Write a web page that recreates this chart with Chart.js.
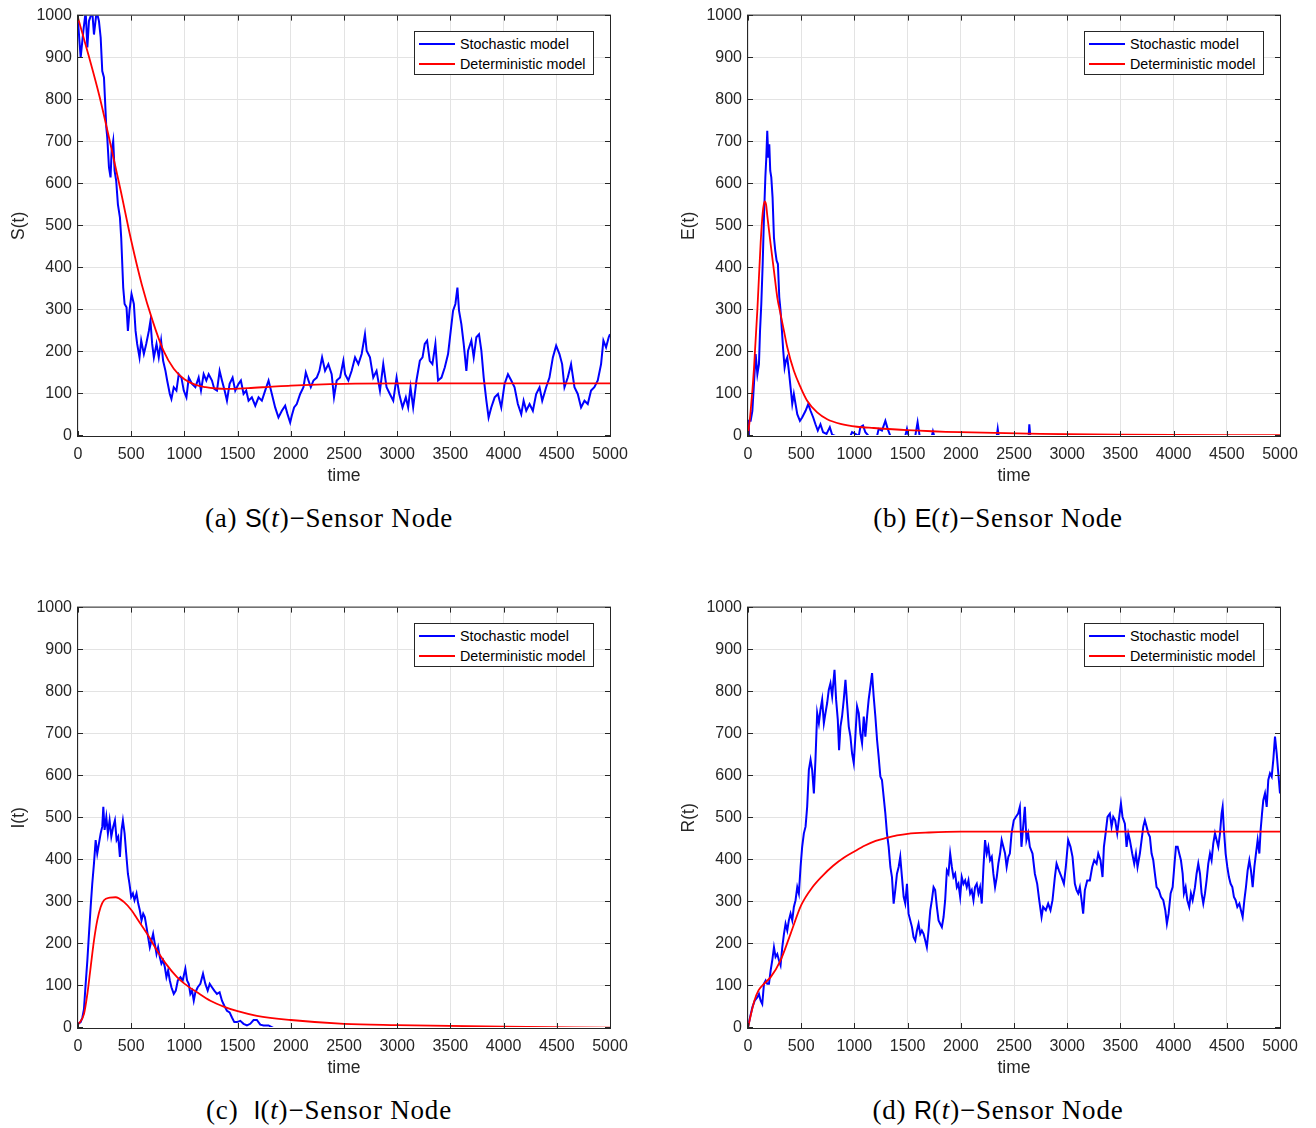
<!DOCTYPE html>
<html>
<head>
<meta charset="utf-8">
<title>SEIR sensor node: stochastic vs deterministic</title>
<script src="https://cdn.jsdelivr.net/npm/chart.js@4.4.1/dist/chart.umd.min.js"></script>
<style>
  html, body { margin: 0; padding: 0; background: #fff; overflow: hidden; }
  body { width: 1316px; height: 1128px; position: relative; font-family: 'Liberation Sans', Arial, sans-serif; }
  .panel { position: absolute; width: 640px; height: 490px; }
  .legend { position: absolute; width: 178px; height: 42px; border: 1px solid #262626; background: #fff; font-size: 14.3px; color: #000; }
  .legend .row { position: absolute; left: 0; width: 178px; height: 20px; line-height: 20px; white-space: nowrap; }
  .legend .sw { position: absolute; left: 4px; width: 36px; height: 2px; top: 9px; }
  .legend .txt { position: absolute; left: 45px; top: 0; }
  .caption { position: absolute; height: 32px; line-height: 32px; font-family: 'Liberation Serif', 'Times New Roman', serif; font-size: 27px; letter-spacing: 0.8px; color: #000; white-space: nowrap; transform: translateX(-50%); }
  .caption .sf { font-family: 'Liberation Sans', Arial, sans-serif; font-size: 25px; letter-spacing: 0; }
  .caption .it { font-style: italic; }
</style>
</head>
<body>

<canvas id="chart-s" class="panel" width="640" height="490" style="left:0px;top:0px"></canvas>
<canvas id="chart-e" class="panel" width="640" height="490" style="left:670px;top:0px"></canvas>
<canvas id="chart-i" class="panel" width="640" height="490" style="left:0px;top:592px"></canvas>
<canvas id="chart-r" class="panel" width="640" height="490" style="left:670px;top:592px"></canvas>

<div class="caption" style="left:329px;top:502px">(a) <span class="sf">S</span>(<span class="it">t</span>)−Sensor Node</div>
<div class="caption" style="left:998px;top:502px">(b) <span class="sf">E</span>(<span class="it">t</span>)−Sensor Node</div>
<div class="caption" style="left:329px;top:1094px">(c)&nbsp; <span class="sf">I</span>(<span class="it">t</span>)−Sensor Node</div>
<div class="caption" style="left:998px;top:1094px">(d) <span class="sf">R</span>(<span class="it">t</span>)−Sensor Node</div>

<script>
// axis ticks
const timeTicks = [0, 500, 1000, 1500, 2000, 2500, 3000, 3500, 4000, 4500, 5000];
const countTicks = [0, 100, 200, 300, 400, 500, 600, 700, 800, 900, 1000];
const seriesNames = ['Stochastic model', 'Deterministic model'];

// [time, value]
const sDeterministic = [[0,995],[50,950],[100,905],[200,810],[300,700],[400,585],[500,465],[600,360],[700,275],[800,205],[900,160],[1000,135],[1100,122],[1200,116],[1300,113],[1400,112],[1600,114],[1800,117],[2000,120],[2500,124],[3000,125],[4000,125],[5000,125]];
const sStochastic = [[0,987],[25,900],[50,963],[72,1010],[88,924],[103,987],[134,1010],[150,955],[175,1010],[197,987],[213,948],[228,868],[244,853],[253,805],[266,734],[275,710],[291,639],[306,615],[316,678],[331,702],[344,631],[359,607],[375,551],[394,520],[406,472],[416,409],[425,353],[438,314],[456,306],[469,250],[484,298],[503,338],[525,314],[541,250],[556,219],[578,187],[594,227],[619,195],[641,219],[666,250],[681,274],[697,219],[713,187],[738,219],[759,187],[781,227],[800,179],[822,155],[838,132],[863,100],[878,88],[900,116],[925,108],[947,147],[972,139],[994,108],[1019,92],[1041,139],[1072,124],[1103,116],[1134,139],[1156,108],[1181,147],[1206,132],[1228,147],[1259,132],[1281,112],[1306,108],[1331,155],[1353,132],[1378,108],[1400,84],[1425,124],[1453,139],[1478,108],[1509,124],[1531,132],[1556,100],[1581,108],[1603,84],[1634,92],[1666,72],[1697,92],[1728,84],[1759,108],[1791,132],[1822,100],[1853,68],[1884,44],[1916,60],[1947,72],[1969,52],[1994,32],[2009,48],[2031,68],[2056,76],[2088,100],[2119,116],[2141,151],[2166,132],[2188,116],[2213,132],[2244,139],[2269,155],[2294,187],[2322,155],[2353,171],[2384,147],[2406,92],[2431,132],[2463,139],[2494,179],[2510,147],[2541,132],[2572,155],[2604,187],[2635,171],[2666,195],[2697,242],[2713,203],[2744,187],[2775,139],[2806,155],[2838,108],[2869,171],[2900,116],[2931,100],[2963,84],[2994,139],[3019,100],[3050,68],[3081,92],[3103,68],[3125,116],[3150,68],[3181,132],[3213,179],[3238,187],[3259,219],[3281,227],[3306,179],[3331,171],[3359,219],[3384,132],[3416,139],[3447,163],[3478,195],[3503,250],[3525,298],[3547,314],[3566,353],[3581,298],[3603,266],[3625,219],[3650,155],[3666,203],[3697,227],[3719,187],[3744,235],[3769,242],[3791,203],[3813,139],[3838,84],[3859,44],[3884,68],[3916,92],[3947,100],[3978,68],[4009,124],[4041,147],[4072,132],[4103,116],[4134,76],[4166,52],[4188,84],[4213,60],[4244,76],[4275,60],[4306,100],[4338,116],[4363,84],[4400,116],[4431,139],[4463,187],[4494,215],[4525,195],[4550,171],[4572,116],[4603,139],[4634,171],[4666,116],[4697,100],[4728,68],[4760,84],[4791,76],[4822,108],[4853,116],[4885,132],[4916,171],[4938,227],[4963,211],[4988,235],[5000,242]];

const eDeterministic = [[0,0],[25,60],[56,160],[88,300],[119,460],[138,530],[156,558],[170,550],[181,525],[213,456],[244,393],[275,330],[306,290],[338,250],[369,211],[431,155],[494,116],[556,84],[650,56],[744,40],[869,29],[1025,22],[1181,19],[1494,14],[1994,9],[2744,5],[3500,3],[5000,2]];
const eStochastic = [[0,0],[9,36],[25,36],[41,60],[56,124],[72,195],[88,147],[103,171],[113,250],[125,314],[138,409],[150,520],[163,615],[172,662],[181,726],[191,662],[200,694],[209,631],[219,615],[231,567],[244,472],[256,441],[269,417],[281,409],[294,330],[306,298],[319,250],[331,203],[344,163],[356,179],[369,187],[384,155],[400,116],[416,76],[431,100],[447,76],[463,52],[488,36],[509,44],[541,60],[566,76],[588,60],[613,44],[634,28],[656,13],[681,28],[706,9],[738,5],[769,21],[791,3],[822,0],[963,0],[978,9],[1009,5],[1041,0],[1056,21],[1081,25],[1103,9],[1134,0],[1213,0],[1228,17],[1259,13],[1291,36],[1313,17],[1338,0],[1478,0],[1494,17],[1509,0],[1572,0],[1594,33],[1613,0],[1728,0],[1738,11],[1750,0],[2338,0],[2347,17],[2356,0],[2638,0],[2644,28],[2653,0],[5000,0]];

const iDeterministic = [[0,8],[56,33],[88,81],[119,145],[150,208],[181,256],[213,288],[244,304],[300,310],[353,311],[431,300],[503,280],[556,260],[650,224],[744,184],[838,149],[931,121],[1003,105],[1119,85],[1244,65],[1369,51],[1500,40],[1681,29],[2000,19],[2500,10],[3000,7],[4000,3],[5000,1]];
const iStochastic = [[0,10],[25,14],[41,25],[56,45],[72,105],[88,161],[103,224],[119,288],[134,343],[150,391],[166,447],[181,415],[197,439],[213,463],[228,479],[238,526],[250,471],[266,502],[281,463],[297,494],[313,455],[331,479],[347,494],[363,447],[378,455],[394,407],[409,471],[422,494],[438,463],[453,415],[469,367],[484,343],[500,312],[516,320],[531,304],[550,320],[566,296],[581,280],[597,256],[613,272],[628,264],[644,240],[659,216],[675,192],[691,208],[706,224],[722,200],[738,176],[753,192],[769,169],[784,153],[800,161],[816,145],[831,121],[847,137],[863,113],[878,97],[900,81],[919,89],[938,113],[963,121],[984,113],[1009,141],[1025,113],[1041,105],[1056,81],[1072,89],[1088,65],[1103,85],[1125,97],[1150,105],[1175,129],[1197,105],[1219,89],[1238,105],[1259,97],[1281,89],[1306,81],[1331,85],[1353,65],[1375,53],[1400,41],[1425,37],[1447,25],[1469,14],[1494,14],[1525,17],[1556,10],[1588,6],[1619,10],[1650,19],[1681,19],[1713,8],[1744,6],[1791,6],[1822,2],[1838,0],[5000,0]];

const rDeterministic = [[0,0],[30,35],[60,65],[100,90],[150,105],[213,121],[306,161],[400,224],[500,292],[600,333],[700,362],[800,386],[900,405],[1000,420],[1100,434],[1200,445],[1300,452],[1400,458],[1500,462],[1700,465],[2000,467],[5000,467]];
const rStochastic = [[0,2],[19,25],[41,49],[63,65],[88,73],[103,81],[119,65],[134,57],[150,105],[166,113],[181,105],[197,105],[213,137],[228,161],[244,192],[259,169],[275,176],[291,161],[306,149],[322,192],[338,224],[353,248],[369,232],[384,256],[400,272],[416,256],[431,288],[447,304],[463,335],[478,320],[494,383],[509,431],[525,463],[541,479],[556,526],[572,614],[588,638],[603,614],[619,558],[634,638],[650,749],[666,725],[681,757],[697,781],[713,725],[728,749],[744,773],[759,804],[775,820],[791,789],[813,852],[828,781],[844,733],[856,661],[869,717],[884,741],[900,781],[916,828],[931,773],[947,717],[963,693],[978,653],[994,630],[1009,693],[1025,765],[1041,749],[1056,701],[1072,677],[1088,741],[1103,693],[1119,741],[1134,781],[1150,812],[1166,844],[1181,789],[1197,741],[1213,685],[1228,645],[1244,598],[1259,590],[1275,550],[1291,510],[1306,463],[1322,431],[1338,383],[1353,359],[1369,296],[1384,328],[1400,367],[1416,383],[1431,407],[1447,359],[1463,312],[1478,296],[1494,343],[1509,272],[1525,256],[1541,240],[1556,216],[1572,208],[1588,232],[1603,248],[1619,224],[1634,232],[1650,224],[1666,208],[1681,192],[1697,232],[1713,280],[1728,304],[1744,335],[1759,328],[1775,288],[1791,256],[1806,248],[1822,240],[1838,264],[1853,304],[1869,375],[1884,367],[1900,415],[1916,383],[1931,359],[1947,367],[1963,335],[1978,343],[1994,312],[2009,359],[2025,343],[2041,351],[2056,335],[2072,351],[2088,320],[2103,328],[2119,304],[2134,335],[2150,343],[2166,320],[2181,335],[2197,296],[2213,383],[2228,447],[2244,415],[2259,431],[2275,399],[2291,407],[2306,367],[2322,335],[2338,359],[2353,391],[2369,415],[2384,447],[2400,431],[2416,415],[2431,383],[2447,407],[2461,415],[2477,463],[2498,494],[2517,502],[2539,510],[2555,526],[2570,431],[2586,479],[2602,526],[2617,447],[2633,463],[2649,431],[2674,415],[2696,367],[2718,343],[2737,304],[2759,264],[2774,288],[2799,280],[2821,296],[2843,280],[2862,304],[2884,359],[2900,391],[2922,375],[2947,359],[2969,343],[2987,383],[3009,447],[3031,431],[3050,407],[3072,343],[3088,328],[3103,320],[3119,335],[3135,304],[3150,272],[3166,328],[3188,351],[3213,351],[3235,383],[3254,399],[3276,391],[3292,415],[3313,399],[3332,359],[3345,431],[3361,463],[3379,502],[3401,510],[3417,479],[3433,502],[3451,494],[3470,463],[3489,502],[3505,534],[3520,502],[3542,486],[3558,431],[3574,463],[3589,447],[3611,415],[3630,391],[3646,415],[3661,383],[3683,415],[3699,447],[3715,479],[3730,494],[3746,479],[3762,463],[3777,455],[3793,415],[3809,399],[3824,367],[3840,335],[3862,328],[3881,312],[3903,304],[3922,280],[3937,248],[3953,272],[3972,320],[3991,335],[4006,383],[4022,431],[4038,431],[4053,415],[4069,399],[4085,367],[4097,320],[4113,335],[4129,304],[4147,288],[4163,320],[4179,304],[4201,335],[4216,367],[4232,391],[4248,367],[4263,320],[4279,296],[4295,320],[4310,351],[4326,391],[4342,415],[4357,399],[4373,439],[4389,463],[4404,447],[4420,431],[4436,463],[4451,510],[4461,526],[4473,471],[4489,415],[4505,383],[4520,359],[4536,343],[4552,335],[4567,312],[4583,304],[4599,288],[4618,296],[4633,280],[4649,264],[4665,304],[4680,335],[4696,375],[4712,399],[4727,375],[4743,335],[4759,383],[4774,415],[4790,447],[4806,415],[4818,471],[4831,510],[4843,542],[4859,558],[4875,526],[4890,590],[4906,606],[4922,598],[4937,638],[4953,693],[4969,653],[4984,606],[5000,558]];

const AXIS_COLOR = '#262626';
const GRID_COLOR = '#e3e3e3';
const SANS = "'Liberation Sans', Arial, sans-serif";

const toPoints = (pairs) => pairs.map(([x, y]) => ({ x, y }));

// MATLAB-style box with inward tick marks, drawn over the lines
const axesBox = {
    id: 'axesBox',
    afterDatasetsDraw(chart) {
        const { ctx, chartArea: a, scales } = chart;
        const len = 5;
        ctx.save();
        ctx.strokeStyle = AXIS_COLOR;
        ctx.lineWidth = 1;
        ctx.beginPath();
        timeTicks.forEach((v) => {
            const px = Math.round(scales.x.getPixelForValue(v)) + 0.5;
            ctx.moveTo(px, a.bottom); ctx.lineTo(px, a.bottom - len);
            ctx.moveTo(px, a.top); ctx.lineTo(px, a.top + len);
        });
        countTicks.forEach((v) => {
            const py = Math.round(scales.y.getPixelForValue(v)) - 0.5;
            ctx.moveTo(a.left, py); ctx.lineTo(a.left + len, py);
            ctx.moveTo(a.right, py); ctx.lineTo(a.right - len, py);
        });
        ctx.stroke();
        ctx.strokeRect(a.left - 0.5, a.top - 0.5, a.right - a.left + 1, a.bottom - a.top + 1);
        ctx.restore();
    },
};

function makePanel(canvasId, yLabel, stochastic, deterministic) {
    const canvas = document.getElementById(canvasId);
    new Chart(canvas, {
        type: 'line',
        data: {
            datasets: [
                {
                    label: seriesNames[1],
                    data: toPoints(deterministic),
                    borderColor: '#ff0000',
                    borderWidth: 1.8,
                    pointRadius: 0,
                    cubicInterpolationMode: 'monotone',
                    clip: { left: 0, top: 0, right: 0, bottom: -1 },
                },
                {
                    label: seriesNames[0],
                    data: toPoints(stochastic),
                    borderColor: '#0000ff',
                    borderWidth: 2,
                    pointRadius: 0,
                    tension: 0,
                    clip: { left: 0, top: 0, right: 0, bottom: -1 },
                },
            ],
        },
        options: {
            responsive: false,
            animation: false,
            devicePixelRatio: 1,
            layout: { padding: { top: 15, right: 30, left: 0, bottom: 0 } },
            plugins: {
                legend: { display: false },
                tooltip: { enabled: false },
            },
            scales: {
                x: {
                    type: 'linear',
                    min: 0,
                    max: 5000,
                    afterFit: (scale) => { scale.height = 54; },
                    afterBuildTicks: (scale) => { scale.ticks = timeTicks.map((v) => ({ value: v })); },
                    grid: { color: GRID_COLOR, drawTicks: false },
                    border: { display: false },
                    ticks: {
                        color: '#262626',
                        padding: 9,
                        maxRotation: 0,
                        autoSkip: false,
                        font: { family: SANS, size: 16 },
                        callback: (v) => String(v),
                    },
                    title: {
                        display: true,
                        text: 'time',
                        color: '#262626',
                        padding: { top: 0, bottom: 3 },
                        font: { family: SANS, size: 17.5 },
                    },
                },
                y: {
                    min: 0,
                    max: 1000,
                    afterFit: (scale) => { scale.width = 78; },
                    afterBuildTicks: (scale) => { scale.ticks = countTicks.map((v) => ({ value: v })); },
                    grid: { color: GRID_COLOR, drawTicks: false },
                    border: { display: false },
                    ticks: {
                        color: '#262626',
                        padding: 6,
                        font: { family: SANS, size: 16 },
                        callback: (v) => String(v),
                    },
                    title: {
                        display: true,
                        text: yLabel,
                        color: '#262626',
                        padding: { top: 9, bottom: 0 },
                        font: { family: SANS, size: 17.5 },
                    },
                },
            },
        },
        plugins: [axesBox],
    });
}

function addLegend(left, top) {
    const box = document.createElement('div');
    box.className = 'legend';
    box.style.left = left + 'px';
    box.style.top = top + 'px';
    const colors = ['#0000ff', '#ff0000'];
    seriesNames.forEach((name, i) => {
        const row = document.createElement('div');
        row.className = 'row';
        row.style.top = (2 + i * 20) + 'px';
        row.innerHTML = `<span class="sw" style="background:${colors[i]}"></span><span class="txt">${name}</span>`;
        box.appendChild(row);
    });
    document.body.appendChild(box);
}

makePanel('chart-s', 'S(t)', sStochastic, sDeterministic);
makePanel('chart-e', 'E(t)', eStochastic, eDeterministic);
makePanel('chart-i', 'I(t)', iStochastic, iDeterministic);
makePanel('chart-r', 'R(t)', rStochastic, rDeterministic);

addLegend(414, 31);
addLegend(1084, 31);
addLegend(414, 623);
addLegend(1084, 623);
</script>
</body>
</html>
